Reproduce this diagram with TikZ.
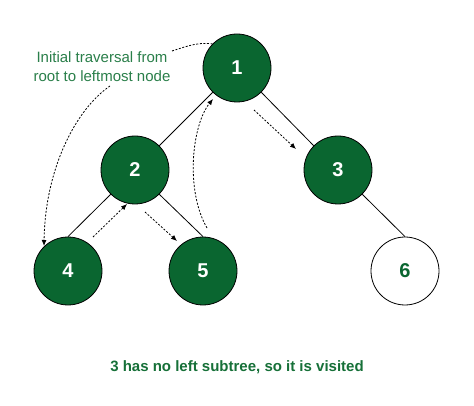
\documentclass[tikz,border=0pt]{standalone}
\usepackage{fontspec}
\setmainfont{Liberation Sans}
\usetikzlibrary{arrows.meta}
\definecolor{nodegreen}{RGB}{10,102,48}
\definecolor{labelgreen}{RGB}{42,127,74}
\definecolor{capgreen}{RGB}{22,112,56}
\begin{document}
\begin{tikzpicture}[x=1pt,y=-1pt,
  tnode/.style={circle,draw=black,line width=0.8pt,fill=nodegreen,minimum size=68pt,inner sep=0pt,text=white,font=\fontsize{20}{22}\selectfont\bfseries},
  tnodew/.style={tnode,fill=white,text=nodegreen},
  edge/.style={draw=black,line width=0.8pt},
  trav/.style={draw=black,line width=0.8pt,dash pattern=on 2pt off 1.6pt,-{Latex[length=6pt,width=5pt]}},
  travline/.style={draw=black,line width=0.8pt,dash pattern=on 2pt off 1.6pt}]
\useasboundingbox[fill=white] (0,0) rectangle (474,406);
\node[tnode] (n1) at (237,68) {1};
\node[tnode] (n2) at (135,170) {2};
\node[tnode] (n3) at (338,170) {3};
\node[tnode] (n4) at (68,271) {4};
\node[tnode] (n5) at (203,271) {5};
\node[tnodew] (n6) at (405,271) {6};
\draw[edge] (n1.-135) -- (n2.45);
\draw[edge] (n1.-45) -- (n3.135);
\draw[edge] (n2.-135) -- (n4.north);
\draw[edge] (n2.-45) -- (n5.north);
\draw[edge] (n3.-45) -- (n6.north);
\node[align=center,text=labelgreen,font=\fontsize{15}{19}\selectfont,inner sep=0pt] (lbl) at (102,67) {Initial traversal from\\root to leftmost node};
\node[text=capgreen,font=\fontsize{15}{18}\selectfont\bfseries,inner sep=0pt] (cap) at (237,367) {3 has no left subtree, so it is visited};
% traversal connectors
\coordinate (l1) at (172,51);
\coordinate (l2) at (110,86);
\coordinate (a42s) at (93,237);
\coordinate (a42e) at (127,204);
\coordinate (a25s) at (145,212);
\coordinate (a25e) at (177,241);
\coordinate (a13s) at (254,110);
\coordinate (a13e) at (296,149);
\coordinate (a51s) at (207,228);
\coordinate (a51e) at (213,99);
\coordinate (a4e) at (44,246);
\coordinate (l1e) at (213,44);
\draw[travline] (l1) .. controls (190,45) and (200,42) .. (l1e);
\draw[trav] (l2) .. controls (75,110) and (45,170) .. (a4e);
\draw[trav] (a42s) -- (a42e);
\draw[trav] (a25s) -- (a25e);
\draw[trav] (a51s) .. controls (185,190) and (192,125) .. (a51e);
\draw[trav] (a13s) -- (a13e);
\end{tikzpicture}
\end{document}
